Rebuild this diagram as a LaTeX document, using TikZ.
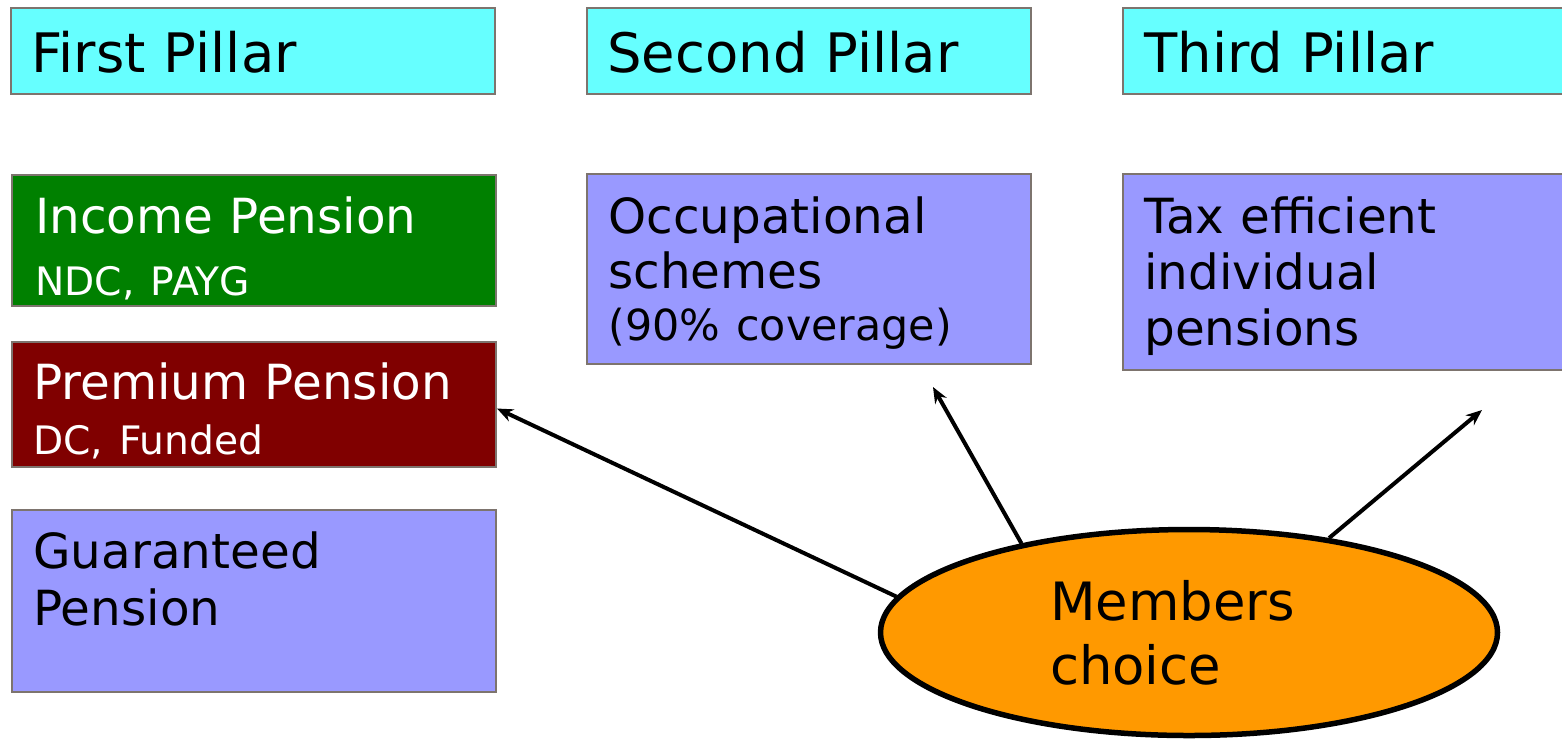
\documentclass[tikz,border=0pt]{standalone}
\usepackage{fontspec}
\setmainfont{DejaVu Sans}
\usepackage{xcolor}
\usetikzlibrary{shapes.geometric, arrows.meta, positioning, calc}
\definecolor{pillarcyan}{RGB}{102,255,255}
\definecolor{incgreen}{RGB}{0,128,0}
\definecolor{premred}{RGB}{128,0,0}
\definecolor{lilac}{RGB}{153,153,255}
\definecolor{choiceorange}{RGB}{255,153,0}
\definecolor{edgegray}{RGB}{125,116,110}
\tikzset{
    arrow/.style={line width=2pt,-{Stealth[length=8pt,width=6.5pt]}},
    boxtxt/.style={anchor=base west, inner sep=0pt, text width=220pt, align=left}
}

\begin{document}
\begin{tikzpicture}[
    x=0.5pt, y=-0.5pt,
    pbox/.style={rectangle, draw=edgegray, line width=1pt, anchor=north west, inner sep=0pt, minimum width=242pt},
    headbox/.style={pbox, fill=pillarcyan, minimum height=43pt},
    choicebox/.style={ellipse, draw, line width=2.75pt, fill=choiceorange, minimum width=308.5pt, minimum height=103pt, inner sep=0pt, text width=139pt, align=left, font=\fontsize{26.4}{32}\selectfont},
    bigfont/.style={font=\fontsize{27.2}{32}\selectfont},
    midfont/.style={font=\fontsize{24.2}{28}\selectfont},
    subfont/.style={font=\fontsize{19.6}{24}\selectfont}
]
    \useasboundingbox (0,0) rectangle (1562,741);

    % Pillar headings
    \node (first) [headbox] at (10,7) {};
    \node (second) [headbox, minimum width=222pt] at (586,7) {};
    \node (third) [headbox, minimum width=222pt] at (1122,7) {};
    \node (firsttxt) [boxtxt, bigfont] at ([shift={(21,65)}]first.north west) {First Pillar};
    \node (secondtxt) [boxtxt, bigfont] at ([shift={(21,65)}]second.north west) {Second Pillar};
    \node (thirdtxt) [boxtxt, bigfont] at ([shift={(22,65)}]third.north west) {Third Pillar};

    % First pillar parts
    \node (income) [pbox, fill=incgreen, minimum height=65.5pt] at (11,174) {};
    \node (premium) [pbox, fill=premred, minimum height=62.5pt] at (11,341) {};
    \node (guar) [pbox, fill=lilac, minimum height=91pt] at (11,509) {};
    \node (inctxt) [boxtxt, midfont, text=white] at ([shift={(24,59)}]income.north west)
        {Income Pension\\[3pt]{\fontsize{19.6}{24}\selectfont NDC, PAYG}};
    \node (premtxt) [boxtxt, midfont, text=white] at ([shift={(22,58)}]premium.north west)
        {Premium Pension\\[-0.5pt]{\fontsize{19.6}{24}\selectfont DC, Funded}};
    \node (guartxt) [boxtxt, midfont] at ([shift={(22,59)}]guar.north west)
        {Guaranteed\\[0.5pt]Pension};

    % Second and third pillar
    \node (occ) [pbox, fill=lilac, minimum width=222pt, minimum height=95pt] at (586,173) {};
    \node (tax) [pbox, fill=lilac, minimum width=222pt, minimum height=98pt] at (1122,173) {};
    \node (occtxt) [boxtxt, midfont] at ([shift={(22,60)}]occ.north west)
        {Occupational\\[-0.5pt]schemes\\[-2pt]{\fontsize{21.4}{26}\selectfont (90\% coverage)}};
    \node (taxtxt) [boxtxt, midfont] at ([shift={(22,60)}]tax.north west)
        {Tax efficient\\individual\\pensions};

    % Members choice
    \node (members) [choicebox] at (1189,632.5) {Members\\choice};

    \coordinate (occtip) at ([shift={(124,22)}]occ.south);
    \coordinate (taxtip) at ([shift={(137,39)}]tax.south);

    \draw [arrow] (members.173) -- ([yshift=-2pt]premium.east);
    \draw [arrow] (members.152) -- (occtip);
    \draw [arrow] (members.34) -- (taxtip);

\end{tikzpicture}
\end{document}
